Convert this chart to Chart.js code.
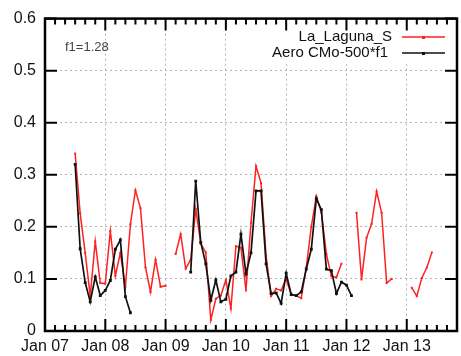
<!DOCTYPE html>
<html>
<head>
<meta charset="utf-8">
<script src="https://cdn.jsdelivr.net/npm/chart.js@4/dist/chart.umd.min.js"></script>
<style>
  body { margin: 0; background: #fff; }
</style>
</head>
<body>
<canvas id="chart" width="461" height="356"></canvas>
<script>
// months counted from Jan 2007 (0 = Jan 07)
var months = [6, 7, 8, 9, 10, 11, 12, 13, 14, 15, 16, 17, 18, 19, 20, 21, 22, 23,
    24, 25, 26, 27, 28, 29, 30, 31, 32, 33, 34, 35, 36, 37, 38, 39, 40, 41, 42,
    43, 44, 45, 46, 47, 48, 49, 50, 51, 52, 53, 54, 55, 56, 57, 58, 59, 60, 61,
    62, 63, 64, 65, 66, 67, 68, 69, 70, 71, 72, 73, 74, 75, 76, 77];

var laguna = [0.341, 0.226, 0.150, 0.067, 0.172, 0.092, 0.091, 0.192, 0.106, 0.150,
    0.085, 0.205, 0.270, 0.236, 0.122, 0.075, 0.137, 0.085, 0.087, null,
    0.148, 0.186, 0.120, 0.137, 0.234, 0.168, 0.151, 0.021, 0.062, 0.068,
    0.098, 0.043, 0.163, 0.160, 0.078, 0.208, 0.317, 0.284, 0.145, 0.067,
    0.081, 0.078, 0.100, 0.070, 0.068, 0.063, 0.122, 0.200, 0.259, 0.228,
    0.148, 0.105, 0.103, 0.129, null, null,
    0.227, 0.099, 0.179, 0.206, 0.268, 0.227, 0.092, 0.100, null, null, null,
    0.083, 0.067, 0.102, 0.122, 0.151];

var aero = [0.320, 0.158, 0.093, 0.056, 0.104, 0.068, 0.078, 0.097, 0.157, 0.175,
    0.066, 0.035, null, null, null, null, null, null, null, null, null, null, null,
    0.113, 0.288, 0.170, 0.129, 0.059, 0.098, 0.056, 0.061, 0.106, 0.113, 0.186,
    0.110, 0.150, 0.269, 0.269, 0.129, 0.072, 0.073, 0.053, 0.111, 0.070, 0.068,
    0.075, 0.119, 0.157, 0.254, 0.233, 0.119, 0.116, 0.072, 0.094, 0.088, 0.068,
    null, null, null, null, null, null, null, null, null, null, null, null, null, null, null, null];

var yearTicks = [0, 12, 24, 36, 48, 60, 72];
var yearLabels = ["Jan 07", "Jan 08", "Jan 09", "Jan 10", "Jan 11", "Jan 12", "Jan 13"];
var yTicks = [0, 0.1, 0.2, 0.3, 0.4, 0.5, 0.6];
var yLabels = ["0", "0.1", "0.2", "0.3", "0.4", "0.5", "0.6"];

function toPoints(vals) {
    return months.map(function (m, i) {
        return { x: m, y: vals[i] };
    });
}

var tickFont = { family: "'Liberation Sans', Arial, sans-serif", size: 16 };

var frameAndKey = {
    id: "frameAndKey",
    afterDraw: function (chart) {
        var ctx = chart.ctx;
        var a = chart.chartArea;
        var xs = chart.scales.x;
        var ys = chart.scales.y;
        ctx.save();

        // key box blanks the grid behind it
        ctx.fillStyle = "#fff";
        ctx.fillRect(254, 20, 207, 44);

        ctx.font = "15px 'Liberation Sans', Arial, sans-serif";
        ctx.textAlign = "right";
        ctx.textBaseline = "middle";
        ctx.fillStyle = "#111";
        ctx.fillText("La_Laguna_S", 392, 37);
        ctx.fillText("Aero CMo-500*f1", 388, 53);

        ctx.lineWidth = 1.5;
        ctx.strokeStyle = "#ff2020";
        ctx.beginPath(); ctx.moveTo(402, 37); ctx.lineTo(445, 37); ctx.stroke();
        ctx.strokeStyle = "#111";
        ctx.beginPath(); ctx.moveTo(402, 53); ctx.lineTo(445, 53); ctx.stroke();
        ctx.fillStyle = "#ff2020";
        ctx.fillRect(422, 36, 3, 3);
        ctx.fillStyle = "#111";
        ctx.fillRect(422, 52, 3, 3);

        ctx.font = "13px 'Liberation Sans', Arial, sans-serif";
        ctx.textAlign = "left";
        ctx.fillStyle = "#444";
        ctx.fillText("f1=1.28", 65, 47);

        // frame
        ctx.strokeStyle = "#000";
        ctx.lineWidth = 2.5;
        ctx.strokeRect(a.left, a.top, a.right - a.left, a.bottom - a.top);

        // inward ticks
        ctx.lineWidth = 2;
        ctx.beginPath();
        yTicks.forEach(function (v) {
            var y = ys.getPixelForValue(v);
            ctx.moveTo(a.left, y); ctx.lineTo(a.left + 12, y);
            ctx.moveTo(a.right, y); ctx.lineTo(a.right - 12, y);
        });
        for (var m = 0; m <= xs.max; m += 2) {
            var x = xs.getPixelForValue(m);
            var len = (m % 12 === 0) ? 12 : 6;
            ctx.moveTo(x, a.bottom); ctx.lineTo(x, a.bottom - len);
            ctx.moveTo(x, a.top); ctx.lineTo(x, a.top + len);
        }
        ctx.stroke();
        ctx.restore();
    }
};

var ctx = document.getElementById("chart").getContext("2d");
var chart = new Chart(ctx, {
    type: "line",
    data: {
        datasets: [
            {
                label: "La_Laguna_S",
                data: toPoints(laguna),
                borderColor: "#ff2020",
                backgroundColor: "#ff2020",
                borderWidth: 1.5,
                pointStyle: "rect",
                pointRadius: 1.4,
                pointBorderWidth: 0,
                spanGaps: false,
                tension: 0,
                order: 2
            },
            {
                label: "Aero CMo-500*f1",
                data: toPoints(aero),
                borderColor: "#111",
                backgroundColor: "#111",
                borderWidth: 1.7,
                pointStyle: "rect",
                pointRadius: 2,
                pointBorderWidth: 0,
                spanGaps: false,
                tension: 0,
                order: 1
            }
        ]
    },
    options: {
        responsive: false,
        animation: false,
        layout: { padding: { top: 15, right: 0, bottom: 0, left: 0 } },
        plugins: {
            legend: { display: false },
            tooltip: { enabled: false }
        },
        scales: {
            x: {
                type: "linear",
                min: 0,
                max: 82,
                afterBuildTicks: function (scale) {
                    scale.ticks = yearTicks.map(function (v) { return { value: v }; });
                },
                afterFit: function (scale) { scale.height = 25; },
                grid: { color: "#b4b4b4", lineWidth: 1, drawTicks: false },
                border: { display: false, dash: [2, 3] },
                ticks: {
                    padding: 6,
                    color: "#111",
                    font: tickFont,
                    maxRotation: 0,
                    autoSkip: false,
                    callback: function (v) { return yearLabels[yearTicks.indexOf(v)]; }
                }
            },
            y: {
                min: 0,
                max: 0.6,
                afterBuildTicks: function (scale) {
                    scale.ticks = yTicks.map(function (v) { return { value: v }; });
                },
                afterFit: function (scale) { scale.width = 45; },
                grid: { color: "#b4b4b4", lineWidth: 1, drawTicks: false },
                border: { display: false, dash: [2, 3] },
                ticks: {
                    padding: 9,
                    color: "#111",
                    font: tickFont,
                    callback: function (v) { return yLabels[yTicks.indexOf(v)]; }
                }
            }
        }
    },
    plugins: [frameAndKey]
});
</script>
</body>
</html>
